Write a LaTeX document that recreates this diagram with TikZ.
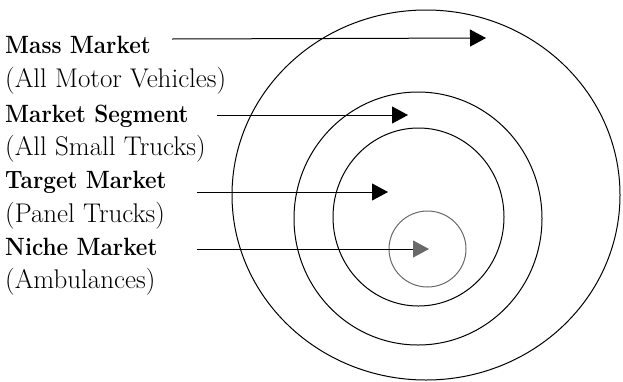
\documentclass[tikz,border=0pt]{standalone}
\usepackage{fontspec}
\setmainfont{Latin Modern Roman}
\usepackage{tikz}
\usetikzlibrary{positioning,arrows.meta,shapes.geometric}
\definecolor{nicheGray}{RGB}{105,105,105}
\newcommand{\headtext}[1]{\scalebox{0.9}[1]{#1}}

\begin{document}
\begin{tikzpicture}[
                  x=1pt,y=-1pt,
                  head/.style={anchor=base west,inner sep=0pt,font=\fontsize{25}{30}\selectfont\bfseries},
                  sub/.style={anchor=base west,inner sep=0pt,font=\fontsize{27}{30}\selectfont},
                  ring/.style={draw,ellipse,line width=1pt,inner sep=0pt},
                  arr/.style={-{Triangle[length=16pt,width=17pt]},line width=1pt}
                ]
                \useasboundingbox (0,0) rectangle (623,381);
                % rings
                \node[ring,minimum width=388pt,minimum height=370pt] (massring) at (426,195) {};
                \node[ring,minimum width=248pt,minimum height=253pt] (segring) at (418,218.5) {};
                \node[ring,minimum width=171pt,minimum height=178pt] (targetring) at (418.5,217) {};
                \node[ring,draw=nicheGray,minimum width=77pt,minimum height=76pt] (nichering) at (427.5,249) {};
                % labels
                \node[head] (mass) at (5,53) {\headtext{Mass Market}};
                \node[sub] (masssub) at (5,87) {(All Motor Vehicles)};
                \node[head] (seg) at (5,122) {\headtext{Market Segment}};
                \node[sub] (segsub) at (5,155) {(All Small Trucks)};
                \node[head] (target) at (5,188) {\headtext{Target Market}};
                \node[sub] (targetsub) at (5,222) {(Panel Trucks)};
                \node[head] (niche) at (5,255) {\headtext{Niche Market}};
                \node[sub] (nichesub) at (5,288) {(Ambulances)};
                % arrow ends
                \coordinate (mass-s) at (172,39);
                \coordinate (mass-t) at (486,38);
                \coordinate (seg-s) at (217,115);
                \coordinate (seg-t) at (408,115);
                \coordinate (target-s) at (197,192);
                \coordinate (target-t) at (388,192);
                \coordinate (niche-s) at (197,249);
                \coordinate (niche-t) at (429,249);
                
                \draw[arr] (mass-s) -- (mass-t);
                \draw[arr] (seg-s) -- (seg-t);
                \draw[arr] (target-s) -- (target-t);
                \draw[arr,-{Triangle[length=16pt,width=17pt,color=nicheGray]}] (niche-s) -- (niche-t);
                \end{tikzpicture}
\end{document}
